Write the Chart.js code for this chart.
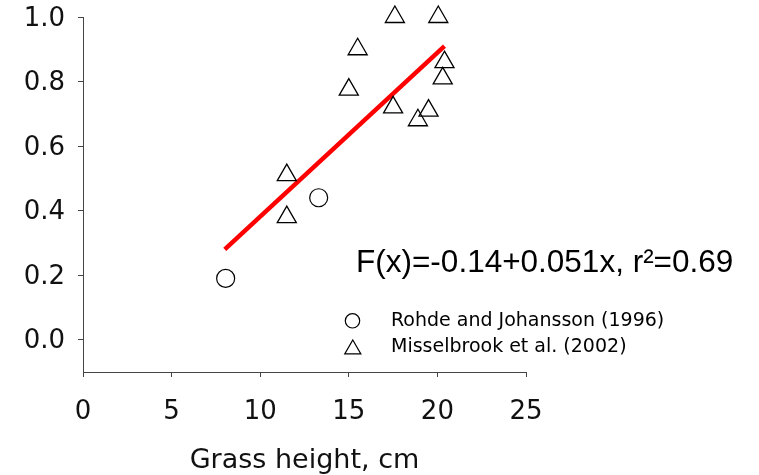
<!DOCTYPE html>
<html>
<head>
<meta charset="utf-8">
<script src="https://cdn.jsdelivr.net/npm/chart.js@4/dist/chart.umd.min.js"></script>
<style>
html,body{margin:0;padding:0;background:#ffffff;}
#wrap{width:759px;height:475px;}
</style>
</head>
<body>
<div id="wrap"><canvas id="c" width="759" height="475"></canvas></div>
<script>
// ---- data ----
const rohdeX = [8.05, 13.3];
const rohdeY = [0.19, 0.44];
const misselX = [11.5, 11.5, 15.0, 15.5, 17.5, 17.6, 18.9, 19.5, 20.05, 20.3, 20.4];
const misselY = [0.51, 0.38, 0.775, 0.90, 0.72, 1.0, 0.68, 0.71, 1.0, 0.81, 0.86];
const fitX = [8.0, 20.4];
const fitY = [0.28, 0.91];
const xTicks = [0, 5, 10, 15, 20, 25];
const yTicks = [0.0, 0.2, 0.4, 0.6, 0.8, 1.0];
const seriesNames = ['Rohde and Johansson (1996)', 'Misselbrook et al. (2002)'];
const xTitle = 'Grass height, cm';
const eqText = 'F(x)=-0.14+0.051x, r\u00B2=0.69';

const pts = (xs, ys) => xs.map((x, i) => ({x: x, y: ys[i]}));

const annot = {
  id: 'annot',
  afterDraw(chart) {
    const c = chart.ctx;
    c.save();
    c.fillStyle = '#000';
    c.textAlign = 'left';
    // equation
    c.font = '31.5px "Liberation Sans", Arial, sans-serif';
    c.textBaseline = 'alphabetic';
    c.fillText(eqText, 356, 272);
    // legend
    c.font = '19px "DejaVu Sans", Verdana, sans-serif';
    c.textBaseline = 'middle';
    const items = [
      {style: 'circle', r: 7.2, mx: 352.5, my: 320.8, ty: 321.5},
      {style: 'triangle', r: 9.3, mx: 352.8, my: 349.3, ty: 347}
    ];
    items.forEach((it, i) => {
      c.strokeStyle = '#000';
      c.lineWidth = 1.2;
      c.fillStyle = 'rgba(0,0,0,0)';
      Chart.helpers.drawPoint(c, {pointStyle: it.style, radius: it.r, borderWidth: 1.2, rotation: 0}, it.mx, it.my);
      c.fillStyle = '#000';
      c.fillText(seriesNames[i], 391, it.ty);
    });
    c.restore();
  }
};

new Chart(document.getElementById('c'), {
  type: 'scatter',
  data: {
    datasets: [
      {
        label: seriesNames[0],
        data: pts(rohdeX, rohdeY),
        pointStyle: 'circle',
        pointRadius: 9,
        borderColor: '#000',
        backgroundColor: 'rgba(0,0,0,0)',
        borderWidth: 1.2,
        clip: false,
        order: 1
      },
      {
        label: seriesNames[1],
        data: pts(misselX, misselY),
        pointStyle: 'triangle',
        pointRadius: 11,
        borderColor: '#000',
        backgroundColor: 'rgba(0,0,0,0)',
        borderWidth: 1.3,
        clip: false,
        order: 1
      },
      {
        type: 'line',
        label: 'fit',
        data: pts(fitX, fitY),
        borderColor: '#ff0000',
        borderWidth: 4.5,
        pointRadius: 0,
        fill: false,
        clip: false,
        order: 3
      }
    ]
  },
  options: {
    responsive: false,
    animation: false,
    devicePixelRatio: 1,
    layout: {padding: {top: 17, right: 233, left: 0, bottom: 0}},
    plugins: {legend: {display: false}, tooltip: {enabled: false}},
    scales: {
      x: {
        type: 'linear',
        min: 0, max: 25,
        afterBuildTicks: s => { s.ticks = xTicks.map(v => ({value: v})); },
        afterFit: s => { s.height = 103; s.paddingLeft = 0; s.paddingRight = 0; },
        grid: {display: true, drawOnChartArea: false, drawTicks: true, tickLength: 5, color: '#444', lineWidth: 1},
        border: {display: true, color: '#444', width: 1},
        ticks: {font: {family: 'DejaVu Sans', size: 26}, color: '#111', padding: 20, maxRotation: 0, autoSkip: false},
        title: {display: true, text: xTitle, color: '#111',
                font: {family: 'DejaVu Sans', size: 27, lineHeight: 1},
                padding: {top: 0, bottom: 1}}
      },
      y: {
        type: 'linear',
        min: -0.1, max: 1.0,
        afterBuildTicks: s => { s.ticks = yTicks.map(v => ({value: v})); },
        afterFit: s => { s.width = 83; s.paddingTop = 0; s.paddingBottom = 0; },
        grid: {display: true, drawOnChartArea: false, drawTicks: true, tickLength: 5, color: '#444', lineWidth: 1},
        border: {display: true, color: '#444', width: 1},
        ticks: {font: {family: 'DejaVu Sans', size: 26}, color: '#111', padding: 13, labelOffset: 2, autoSkip: false,
                callback: v => Number(v).toFixed(1)}
      }
    }
  },
  plugins: [annot]
});
</script>
</body>
</html>
